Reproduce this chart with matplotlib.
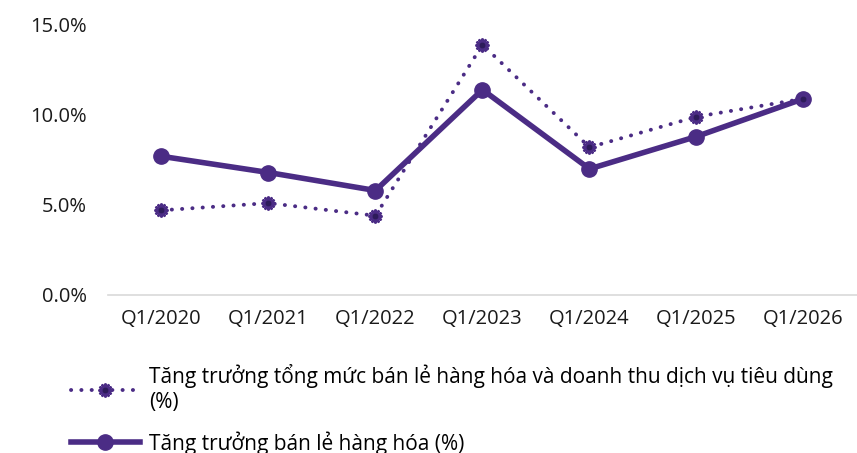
import matplotlib.pyplot as plt

plt.rcParams['font.family'] = ['Open Sans', 'DejaVu Sans']

quarters = ['Q1/2020', 'Q1/2021', 'Q1/2022', 'Q1/2023', 'Q1/2024', 'Q1/2025', 'Q1/2026']
tong_muc = [4.7, 5.1, 4.4, 13.9, 8.2, 9.9, 10.9]      # dotted series
hang_hoa = [7.7, 6.8, 5.8, 11.4, 7.0, 8.8, 10.9]      # solid series

label_tong = 'Tăng trưởng tổng mức bán lẻ hàng hóa và doanh thu dịch vụ tiêu dùng\n(%)'
label_hang = 'Tăng trưởng bán lẻ hàng hóa (%)'

purple = '#4B2C85'
dark = '#2D1B5A'

fig = plt.figure(figsize=(8.57, 4.53), dpi=100)
ax = fig.add_axes([0.126, 0.349, 0.874, 0.596])

x = range(len(quarters))
ax.plot(x, tong_muc, linestyle=(0, (0.05, 2.6)), dash_capstyle='round', linewidth=2.8,
        color=purple, marker=(12, 1, 0), markersize=10, markerfacecolor=dark,
        markeredgecolor=purple, markeredgewidth=1.5, label=label_tong, clip_on=False, zorder=3)
ax.plot(x, hang_hoa, linestyle='-', linewidth=4, color=purple, marker='o', markersize=11,
        label=label_hang, clip_on=False, zorder=2)

ax.set_xlim(-0.5, 6.5)
ax.set_ylim(0, 15)
ax.set_yticks([0, 5, 10, 15])
ax.set_yticklabels(['0.0%', '5.0%', '10.0%', '15.0%'])
ax.set_xticks(list(x))
ax.set_xticklabels(quarters)
for s in ['top', 'right', 'left']:
    ax.spines[s].set_visible(False)
ax.spines['bottom'].set_color('#D9D9D9')
ax.spines['bottom'].set_linewidth(1.2)
ax.tick_params(axis='both', length=0, labelsize=14.5, colors='#1a1a1a')
ax.tick_params(axis='x', pad=10)
ax.tick_params(axis='y', pad=15)

leg = fig.legend(loc='upper left', bbox_to_anchor=(0.073, 0.214), frameon=False, fontsize=15,
                 handlelength=3.3, handletextpad=0.45, labelspacing=0.85, borderaxespad=0)
for t in leg.get_texts():
    t.set_linespacing(1.25)

fig.savefig('out.png', dpi=100)
